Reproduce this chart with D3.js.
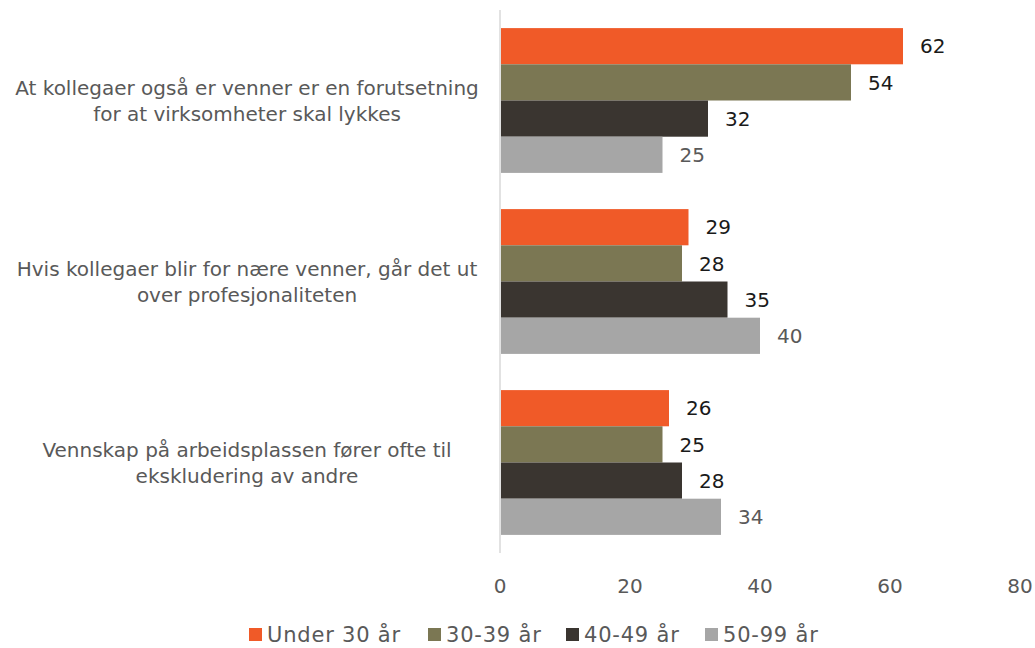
<!DOCTYPE html>
<html>
<head>
<meta charset="utf-8">
<script src="https://cdn.jsdelivr.net/npm/d3@7"></script>
<style>
  body { margin: 0; background: #fff; }
  svg text { font-family: "DejaVu Sans", sans-serif; }
</style>
</head>
<body>
<div id="chart"></div>
<script>
var categories = [
    ["At kollegaer også er venner er en forutsetning", "for at virksomheter skal lykkes"],
    ["Hvis kollegaer blir for nære venner, går det ut", "over profesjonaliteten"],
    ["Vennskap på arbeidsplassen fører ofte til", "ekskludering av andre"]
];
var seriesNames = ["Under 30 år", "30-39 år", "40-49 år", "50-99 år"];
var under30 = [62, 29, 26];
var age30 = [54, 28, 25];
var age40 = [32, 35, 28];
var age50 = [25, 40, 34];
var xTicks = [0, 20, 40, 60, 80];

var colors = ["#F05A28", "#7B7753", "#3A3530", "#A6A6A6"];
var labelColors = ["#1a1a1a", "#1a1a1a", "#1a1a1a", "#595959"];
var series = [under30, age30, age40, age50];

var width = 1035, height = 648;
var margin = { left: 500, right: 15, top: 10, bottom: 95 };

var svg = d3.select("#chart").append("svg")
    .attr("width", width)
    .attr("height", height);

var x = d3.scaleLinear()
    .domain([0, 80])
    .range([margin.left, 1020]);

var y = d3.scaleBand()
    .domain(d3.range(categories.length))
    .range([margin.top, height - margin.bottom])
    .paddingInner(0.2)
    .paddingOuter(0.1);

var ySub = d3.scaleBand()
    .domain(d3.range(series.length))
    .range([0, y.bandwidth()]);

// bars
series.forEach(function (vals, s) {
    svg.selectAll(".bar" + s)
        .data(vals)
        .enter()
        .append("rect")
        .attr("x", x(0) + 1)
        .attr("y", function (d, i) { return y(i) + ySub(s); })
        .attr("width", function (d) { return x(d) - x(0) - 1; })
        .attr("height", ySub.bandwidth())
        .attr("fill", colors[s]);

    svg.selectAll(".lbl" + s)
        .data(vals)
        .enter()
        .append("text")
        .attr("x", function (d) { return x(d) + 17; })
        .attr("y", function (d, i) { return y(i) + ySub(s) + ySub.bandwidth() / 2; })
        .attr("dy", "0.36em")
        .attr("font-size", 20)
        .attr("fill", labelColors[s])
        .text(function (d) { return d; });
});

// vertical axis line
svg.append("line")
    .attr("x1", x(0)).attr("x2", x(0))
    .attr("y1", margin.top).attr("y2", height - margin.bottom)
    .attr("stroke", "#d9d9d9")
    .attr("stroke-width", 1.5);

// category labels
categories.forEach(function (lines, i) {
    var t = svg.append("text")
        .attr("text-anchor", "middle")
        .attr("font-size", 20)
        .attr("fill", "#595959");
    var cy = y(i) + y.bandwidth() / 2;
    lines.forEach(function (ln, j) {
        t.append("tspan")
            .attr("x", 247)
            .attr("y", cy + (j - (lines.length - 1) / 2) * 26)
            .attr("dy", "0.36em")
            .text(ln);
    });
});

// x axis tick labels
svg.selectAll(".tick")
    .data(xTicks)
    .enter()
    .append("text")
    .attr("x", function (d) { return x(d); })
    .attr("y", 586)
    .attr("dy", "0.36em")
    .attr("text-anchor", "middle")
    .attr("font-size", 20)
    .attr("fill", "#595959")
    .text(function (d) { return d; });

// legend
var legendX = [249, 428, 566, 705];
seriesNames.forEach(function (name, s) {
    svg.append("rect")
        .attr("x", legendX[s])
        .attr("y", 628)
        .attr("width", 13)
        .attr("height", 13)
        .attr("fill", colors[s]);
    svg.append("text")
        .attr("x", legendX[s] + 18)
        .attr("y", 634)
        .attr("dy", "0.36em")
        .attr("font-size", 21)
        .attr("letter-spacing", 0.8)
        .attr("fill", "#595959")
        .text(name);
});
</script>
</body>
</html>
